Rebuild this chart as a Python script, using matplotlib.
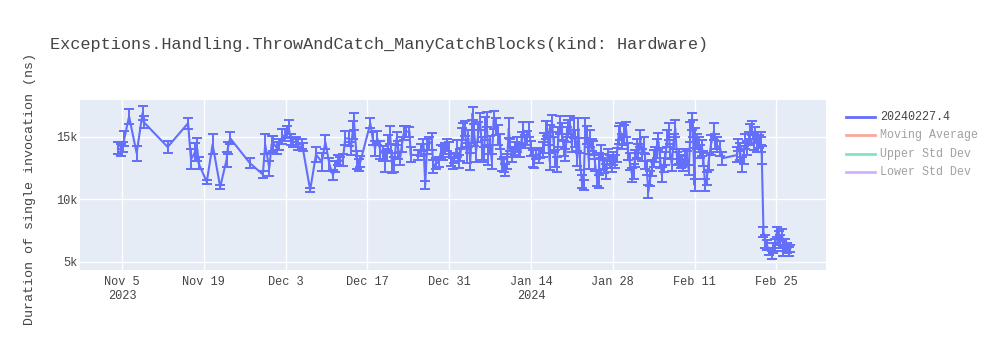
import matplotlib
matplotlib.use('Agg')
import matplotlib.pyplot as plt
from matplotlib.lines import Line2D
import pandas as pd

title = "Exceptions.Handling.ThrowAndCatch_ManyCatchBlocks(kind: Hardware)"
ylabel = "Duration of single invocation (ns)"
series_name = "20240227.4"
hidden_names = ["Moving Average", "Upper Std Dev", "Lower Std Dev"]
hidden_colors = ["#EF553B", "#00CC96", "#AB63FA"]

# run times, in days after start
start = "2023-11-01"
days = [
    3.3, 3.8, 4.1, 4.4, 5.2, 6.5, 7.5, 7.7, 11.8, 15.3,
    15.8, 16.5, 16.9, 17.1, 18.5, 19.5, 20.8, 21.9, 22.1, 22.5,
    25.9, 28.1, 28.5, 29.2, 29.6, 29.9, 30.5, 30.9, 31.4, 31.9,
    32.3, 32.5, 32.9, 33.3, 33.8, 34.2, 34.8, 34.9, 36.2, 37.2,
    38.2, 38.8, 39.5, 40.1, 40.5, 40.9, 41.3, 41.8, 42.2, 42.8,
    43.2, 43.5, 43.7, 44.2, 44.5, 44.8, 46.5, 46.9, 47.3, 47.7,
    48.2, 48.6, 49.0, 49.3, 49.6, 49.9, 50.2, 50.5, 51.0, 51.3,
    51.6, 51.9, 52.2, 52.6, 53.2, 53.4, 54.7, 55.1, 55.6, 55.9,
    56.2, 56.6, 57.0, 57.3, 57.8, 58.2, 58.6, 59.0, 59.3, 59.6,
    59.9, 60.3, 60.6, 60.9, 61.3, 61.6, 61.9, 62.2, 62.4, 62.7,
    63.0, 63.3, 63.6, 63.9, 64.0, 64.3, 64.6, 65.0, 65.3, 65.6,
    65.9, 66.2, 66.4, 66.7, 67.0, 67.3, 67.6, 68.0, 68.4, 68.7,
    69.0, 69.3, 69.6, 69.9, 70.2, 70.4, 70.7, 71.0, 71.3, 71.6,
    71.9, 72.2, 72.4, 72.7, 73.0, 73.3, 73.7, 74.0, 74.3, 74.5,
    74.9, 75.3, 75.6, 76.0, 76.3, 76.6, 76.8, 77.2, 77.3, 77.6,
    77.9, 78.1, 78.4, 78.7, 79.0, 79.3, 79.6, 79.9, 80.1, 80.4,
    80.7, 81.0, 81.3, 81.6, 81.9, 82.1, 82.4, 82.7, 83.0, 83.3,
    83.6, 83.9, 84.1, 84.4, 84.7, 85.0, 85.3, 85.6, 85.7, 86.0,
    86.3, 86.5, 86.9, 87.1, 87.5, 87.9, 88.1, 88.4, 88.7, 89.0,
    89.3, 89.6, 90.0, 90.3, 90.6, 90.9, 91.3, 91.6, 91.8, 92.1,
    92.4, 92.7, 93.0, 93.3, 93.6, 93.8, 94.1, 94.4, 94.7, 95.0,
    95.3, 95.6, 95.8, 96.1, 96.4, 96.7, 97.0, 97.3, 97.6, 97.8,
    98.1, 98.4, 98.7, 99.0, 99.3, 99.6, 99.8, 100.1, 100.4, 100.7,
    101.0, 101.3, 101.6, 101.7, 102.0, 102.1, 102.4, 102.7, 103.0, 103.3,
    103.5, 103.8, 104.1, 104.4, 104.8, 105.3, 105.5, 105.8, 106.4, 106.7,
    109.3, 109.5, 109.8, 110.1, 110.4, 110.7, 111.0, 111.3, 111.5, 111.8,
    112.1, 112.4, 112.7, 113.0, 113.3, 113.4, 113.5, 113.8, 114.1, 114.4,
    114.8, 115.2, 115.5, 115.8, 116.1, 116.4, 116.7, 117.0, 117.2, 117.5,
    117.8, 118.1, 118.4,
]

# duration (ns)
dur = [
    14100, 13960, 14200, 14900, 16640, 13700, 16900, 16200, 14200, 16100,
    13200, 13800, 14000, 12900, 11400, 14400, 11000, 13200, 14100, 14900,
    12900, 12000, 14400, 12500, 14400, 14500, 14100, 14400, 15000, 15160,
    15400, 15800, 14800, 14600, 14600, 14400, 14400, 14200, 10760, 13600,
    13000, 14600, 12800, 11960, 12630, 13160, 13030, 13160, 14890, 14890,
    14090, 15560, 16230, 13160, 12760, 13030, 16090, 14890, 14090, 14890,
    13960, 13690, 13030, 13560, 14490, 15160, 12890, 12760, 14890, 13960,
    13290, 14360, 15290, 15430, 15430, 13560, 13560, 13960, 14360, 11160,
    14230, 14490, 14630, 12630, 12890, 13030, 13830, 13690, 14090, 14360,
    13960, 13160, 12890, 13290, 14090, 13030, 13560, 14890, 15430, 15690,
    13690, 14890, 13030, 15430, 16890, 15160, 13830, 15430, 16230, 14090,
    13560, 15690, 16360, 13560, 14360, 13030, 16360, 15830, 15160, 14630,
    12760, 12760, 12360, 13030, 15690, 14360, 13560, 13830, 14090, 14360,
    13960, 13830, 14890, 15560, 14630, 14890, 15560, 14090, 13290, 13030,
    13690, 13430, 13690, 13960, 14490, 15560, 15690, 13030, 15160, 16090,
    14360, 13290, 12760, 15030, 15960, 15430, 14090, 13560, 15160, 15690,
    15960, 14360, 15690, 14890, 13290, 15690, 13030, 11430, 11160, 15690,
    15160, 13030, 14890, 14360, 14090, 12760, 11690, 11430, 13030, 13830,
    13030, 12630, 12230, 13560, 13030, 12760, 13290, 13030, 13560, 15160,
    15430, 14630, 15160, 15560, 13830, 13030, 11960, 12230, 13290, 14090,
    13830, 14890, 13560, 14360, 13030, 12490, 10630, 11690, 12490, 13290,
    13560, 14090, 14630, 13290, 11960, 12760, 13290, 14890, 15430, 13830,
    12760, 14630, 15690, 13290, 13430, 13030, 13030, 12760, 13430, 13290,
    12360, 15430, 16230, 15690, 11160, 14890, 14630, 14360, 13830, 14090,
    13290, 11160, 11690, 13030, 14360, 15430, 14630, 14360, 14090, 13290,
    13560, 14360, 13830, 12760, 13560, 14630, 14090, 14890, 15430, 15690,
    14630, 15160, 14360, 14630, 14890, 14360, 13560, 7430, 6630, 6360,
    5830, 5560, 6090, 6360, 7430, 6890, 6630, 7160, 5830, 6360,
    6090, 5830, 6090,
]

# error (ns)
err = [
    500, 450, 400, 600, 600, 600, 550, 450, 500, 450,
    800, 700, 900, 500, 150, 800, 150, 600, 500, 500,
    400, 250, 800, 600, 700, 600, 500, 450, 600, 500,
    450, 550, 450, 400, 400, 450, 400, 350, 150, 600,
    700, 550, 500, 400, 450, 400, 350, 450, 550, 600,
    500, 700, 650, 700, 500, 450, 400, 500, 600, 550,
    700, 600, 800, 500, 650, 700, 800, 600, 500, 700,
    500, 600, 550, 450, 400, 600, 400, 450, 500, 350,
    600, 500, 700, 500, 450, 400, 500, 550, 450, 500,
    600, 500, 450, 400, 700, 550, 500, 800, 700, 600,
    800, 700, 650, 900, 500, 900, 800, 800, 700, 900,
    600, 900, 600, 800, 700, 600, 700, 700, 800, 600,
    500, 600, 500, 600, 800, 500, 600, 400, 500, 600,
    550, 450, 500, 600, 500, 550, 600, 600, 700, 500,
    450, 500, 400, 600, 800, 700, 600, 700, 800, 700,
    600, 700, 600, 800, 700, 700, 600, 500, 600, 700,
    700, 600, 800, 700, 600, 800, 700, 500, 400, 800,
    700, 600, 700, 500, 550, 500, 600, 500, 700, 500,
    600, 550, 600, 500, 550, 600, 500, 500, 550, 700,
    700, 600, 800, 600, 700, 650, 550, 600, 700, 750,
    600, 700, 500, 650, 600, 550, 500, 600, 650, 700,
    600, 750, 700, 800, 600, 550, 500, 700, 700, 600,
    500, 600, 700, 500, 600, 500, 450, 500, 600, 550,
    400, 800, 700, 700, 500, 800, 600, 600, 550, 650,
    600, 450, 500, 700, 800, 700, 600, 600, 600, 500,
    600, 500, 700, 600, 700, 600, 550, 500, 600, 550,
    700, 650, 600, 550, 500, 600, 700, 400, 500, 400,
    300, 300, 400, 450, 400, 550, 500, 450, 350, 500,
    400, 350, 300,
]

tick_dates = ["2023-11-05", "2023-11-19", "2023-12-03", "2023-12-17", "2023-12-31",
              "2024-01-14", "2024-01-28", "2024-02-11", "2024-02-25"]
tick_labels = ["Nov 5\n2023", "Nov 19", "Dec 3", "Dec 17", "Dec 31",
               "Jan 14\n2024", "Jan 28", "Feb 11", "Feb 25"]
y_ticks = [5000, 10000, 15000]
y_labels = ["5k", "10k", "15k"]

plt.rcParams['font.family'] = ['Liberation Mono', 'DejaVu Sans Mono']
txt = '#444444'

t0 = pd.Timestamp(start)
when = t0 + pd.to_timedelta(days, unit='D')

fig = plt.figure(figsize=(10, 3.5), dpi=100)
ax = fig.add_axes([0.08, 0.2286, 0.746, 0.4857])
ax.set_facecolor('#E5ECF6')

ax.errorbar(when, dur, yerr=err, color='#636EFA', lw=1.5,
            elinewidth=1.4, capsize=3.5, capthick=1.4)

ax.set_xlim(t0 - pd.Timedelta(days=3.2), t0 + pd.Timedelta(days=124.5))
ax.set_ylim(4360, 17960)
ax.set_xticks(pd.to_datetime(tick_dates))
ax.set_xticklabels(tick_labels)
ax.set_yticks(y_ticks)
ax.set_yticklabels(y_labels)
ax.grid(color='white', lw=1)
ax.set_axisbelow(True)
for s in ax.spines.values():
    s.set_visible(False)
ax.tick_params(length=0, labelsize=8.6, labelcolor=txt)
ax.tick_params(axis='x', pad=4.5)
ax.tick_params(axis='y', pad=2)

fig.text(0.05, 1 - 45 / 350, title, fontsize=12.2, color=txt, va='center')
fig.text(0.03, 1 - 189 / 350, ylabel, fontsize=9.6, color=txt,
         rotation=90, va='center', ha='center')

# legend (the three stat traces are hidden, so drawn faded)
rows = [117, 135, 154, 172]
names = [series_name] + hidden_names
colors = ['#636EFA'] + hidden_colors
for i in range(4):
    yy = 1 - rows[i] / 350
    a = 1.0 if i == 0 else 0.5
    fig.add_artist(Line2D([0.846, 0.875], [yy, yy], color=colors[i], lw=2, alpha=a))
    fig.text(0.880, yy, names[i], fontsize=8.4, color=txt, alpha=a, va='center')

fig.savefig('out.png', dpi=100, facecolor='white')
